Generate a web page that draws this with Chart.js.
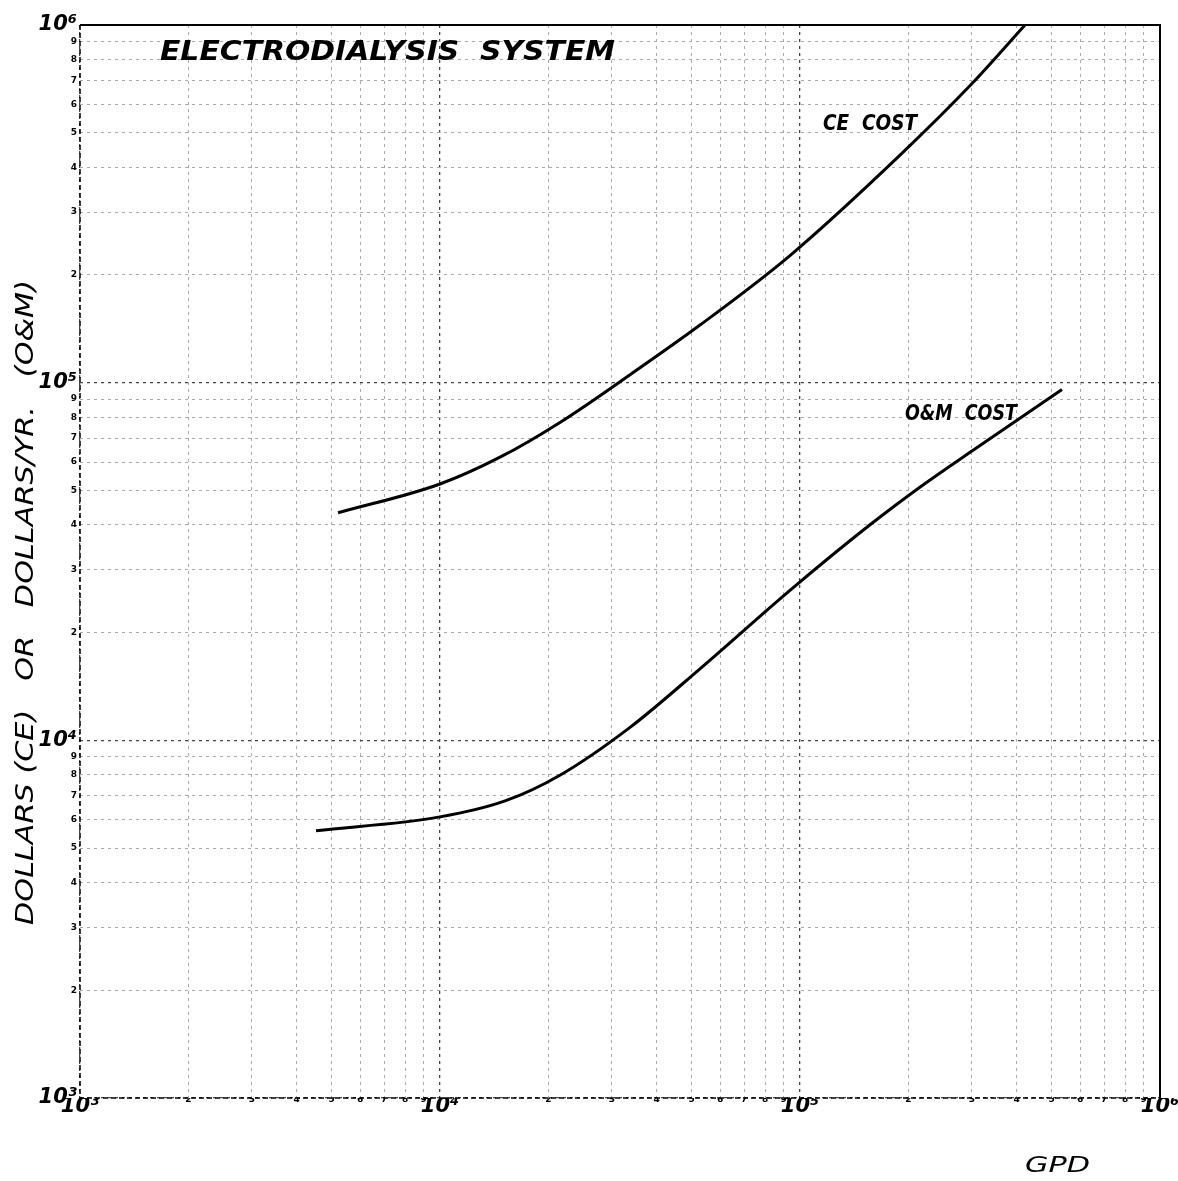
<!DOCTYPE html>
<html>
<head>
<meta charset="utf-8">
<script src="https://cdn.jsdelivr.net/npm/chart.js@4.4.1/dist/chart.umd.min.js"></script>
<style>
  html, body { margin: 0; padding: 0; background: #fff; }
  canvas { display: block; }
</style>
</head>
<body>
<canvas id="chart" width="1178" height="1181"></canvas>
<script>
// values
const gpdCE  = [5210, 10000, 14680, 21540, 33720, 52740, 93800, 189600, 300500, 421700];
const ceCost = [43270, 52090, 61890, 77430, 105250, 144900, 226700, 432600, 685800, 1000000];

const gpdOM  = [4525, 10000, 15160, 21540, 33720, 52740, 93800, 156500, 219600, 302500, 534300];
const omCost = [5590, 6110, 6770, 7990, 10870, 15850, 26270, 40060, 51760, 64730, 95630];

const decadeValues = [1000, 10000, 100000, 1000000];
const decadeLabels = ['10³', '10⁴', '10⁵', '10⁶'];
const minorDigits  = ['2', '3', '4', '5', '6', '7', '8', '9'];

const LEFT = 80, TOP = 25, BOTTOM = 1098, RIGHT = 1160;
const bigFont   = {family: '"DejaVu Sans"', size: 21, style: 'italic', weight: 'bold'};
const smallFont = {family: '"DejaVu Sans"', size: 9, weight: 'bold'};

function sheetTicks() {
  const out = [];
  decadeValues.forEach((base, i) => {
    out.push({value: base, major: true});
    if (i < decadeValues.length - 1) {
      minorDigits.forEach(d => out.push({value: Number(d) * base, major: false}));
    }
  });
  return out;
}

function tickText(value) {
  const i = decadeValues.indexOf(value);
  if (i >= 0) return decadeLabels[i];
  const base = decadeValues.filter(b => b <= value).pop();
  return minorDigits[Math.round(value / base) - 2];
}

const isDecade = c => c.tick && decadeValues.includes(c.tick.value);

function axis(pos) {
  return {
    type: 'logarithmic',
    position: pos,
    min: 1000,
    max: 1000000,
    afterBuildTicks: s => { s.ticks = sheetTicks(); },
    afterFit: s => {
      if (pos === 'left') s.width = LEFT;
      else s.height = 1181 - BOTTOM;
      s.paddingLeft = s.paddingRight = s.paddingTop = s.paddingBottom = 0;
    },
    grid: {
      drawTicks: false,
      color: c => isDecade(c) ? '#444' : '#aaa',
      lineWidth: c => isDecade(c) ? 1.3 : 1
    },
    border: {display: false, dash: [3, 4]},
    ticks: {
      autoSkip: false,
      maxRotation: 0,
      padding: pos === 'left' ? 3 : -4,
      color: '#000',
      font: c => isDecade(c) ? bigFont : smallFont,
      callback: v => tickText(v)
    }
  };
}

function fitText(ctx, text, x, y, width, font) {
  ctx.save();
  ctx.font = font;
  const w = ctx.measureText(text).width;
  ctx.translate(x, y);
  ctx.scale(width / w, 1);
  ctx.fillText(text, 0, 0);
  ctx.restore();
}

const sheetText = {
  id: 'sheetText',
  afterDraw(chart) {
    const {ctx, chartArea: a} = chart;
    ctx.save();
    ctx.strokeStyle = '#000';
    ctx.lineWidth = 2;
    ctx.beginPath();
    ctx.moveTo(a.left, a.top); ctx.lineTo(a.right, a.top); ctx.lineTo(a.right, a.bottom);
    ctx.stroke();
    ctx.lineWidth = 1.5;
    ctx.setLineDash([5, 3]);
    ctx.beginPath();
    ctx.moveTo(a.left, a.top); ctx.lineTo(a.left, a.bottom); ctx.lineTo(a.right, a.bottom);
    ctx.stroke();
    ctx.setLineDash([]);

    ctx.fillStyle = '#000';
    ctx.textBaseline = 'alphabetic';
    ctx.textAlign = 'left';
    fitText(ctx, 'ELECTRODIALYSIS  SYSTEM', 160, 60, 455, 'italic bold 27px "DejaVu Sans"');
    fitText(ctx, 'CE  COST', 823, 130, 94, 'italic bold 21px "DejaVu Sans"');
    fitText(ctx, 'O&M  COST', 905, 420, 112, 'italic bold 21px "DejaVu Sans"');
    fitText(ctx, 'GPD', 1025, 1172, 65, 'italic 22px "DejaVu Sans"');

    ctx.save();
    ctx.translate(33, 925);
    ctx.rotate(-Math.PI / 2);
    fitText(ctx, 'DOLLARS (CE)   OR   DOLLARS/YR.   (O&M)', 0, 0, 645, 'italic 24px "DejaVu Sans"');
    ctx.restore();
    ctx.restore();
  }
};

const curve = {
  borderColor: '#000',
  borderWidth: 3,
  pointRadius: 0,
  cubicInterpolationMode: 'monotone',
  fill: false
};

new Chart(document.getElementById('chart'), {
  type: 'line',
  data: {
    datasets: [
      {...curve, label: 'CE cost', data: gpdCE.map((g, i) => ({x: g, y: ceCost[i]}))},
      {...curve, label: 'O&M cost', data: gpdOM.map((g, i) => ({x: g, y: omCost[i]}))}
    ]
  },
  options: {
    responsive: false,
    animation: false,
    layout: {padding: {top: TOP, right: 1178 - RIGHT, left: 0, bottom: 0}},
    plugins: {legend: {display: false}, tooltip: {enabled: false}, title: {display: false}},
    scales: {x: axis('bottom'), y: axis('left')}
  },
  plugins: [sheetText]
});
</script>
</body>
</html>
